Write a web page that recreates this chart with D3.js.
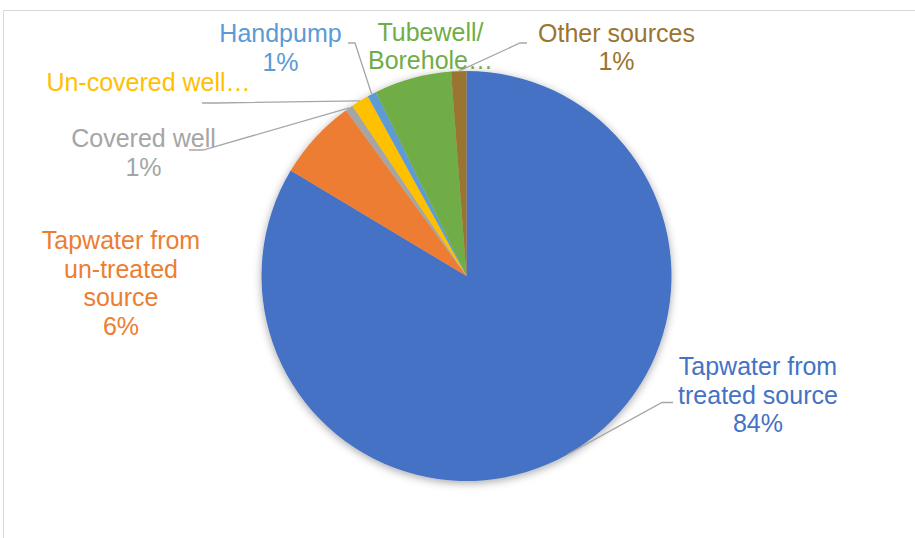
<!DOCTYPE html>
<html>
<head>
<meta charset="utf-8">
<script src="https://cdn.jsdelivr.net/npm/d3@7"></script>
<style>
  html, body { margin: 0; padding: 0; background: #fff; }
  svg { display: block; font-family: "Liberation Sans", Arial, sans-serif; }
</style>
</head>
<body>
<svg id="chart" width="915" height="538"></svg>
<script>
// ---- data ----
const categories = [
  "Tapwater from treated source",
  "Tapwater from un-treated source",
  "Covered well",
  "Un-covered well",
  "Handpump",
  "Tubewell/ Borehole",
  "Other sources"
];
const values = [83.6, 6.4, 0.6, 1.4, 0.7, 6.1, 1.2];
// label text lines ("%" placeholder replaced by computed percentage)
const labelLines = [
  ["Tapwater from", "treated source", "%"],
  ["Tapwater from", "un-treated", "source", "%"],
  ["Covered well", "%"],
  ["Un-covered well…"],
  ["Handpump", "%"],
  ["Tubewell/", "Borehole…"],
  ["Other sources", "%"]
];
const colors = ["#4472C4", "#ED7D31", "#A5A5A5", "#FFC000", "#5B9BD5", "#70AD47", "#9A7530"];

// ---- layout (positions/styles) ----
const cx = 466.5, cy = 276, R = 205;
const fontSize = 25, lineH = 28.5;
const labelPos = [ // label center x, first baseline y, leader polyline start (near label)
  {x: 758, y: 375, leader: [[673, 402.5], [662, 402.5]]},
  {x: 121, y: 249, leader: null},
  {x: 143.5, y: 147, leader: [[189, 150], [203, 150]]},
  {x: 148.5, y: 90.5, leader: [[202, 103], [216, 103]]},
  {x: 280.5, y: 42, leader: [[348, 43], [355, 43]]},
  {x: 430.5, y: 40.5, leader: null},
  {x: 616.5, y: 41.5, leader: [[527, 43], [520, 43]]}
];

const svg = d3.select("#chart");

// chart frame (clipped by the window)
svg.append("rect")
  .attr("x", 3.5).attr("y", 10.5)
  .attr("width", 1000).attr("height", 600)
  .attr("fill", "none").attr("stroke", "#D9D9D9").attr("stroke-width", 1);

const defs = svg.append("defs");
const f = defs.append("filter").attr("id", "shadow")
  .attr("x", "-10%").attr("y", "-10%").attr("width", "120%").attr("height", "120%");
f.append("feDropShadow").attr("dx", 0).attr("dy", 2).attr("stdDeviation", 4)
  .attr("flood-color", "#000").attr("flood-opacity", 0.35);

const data = categories.map((c, i) => ({cat: c, value: values[i], i}));
const pie = d3.pie().value(d => d.value).sort(null);
const arcs = pie(data);
const arc = d3.arc().innerRadius(0).outerRadius(R);
const total = d3.sum(values);

const g = svg.append("g").attr("transform", `translate(${cx},${cy})`);
g.append("g").attr("filter", "url(#shadow)")
  .selectAll("path").data(arcs).join("path")
  .attr("d", arc)
  .attr("fill", d => colors[d.data.i]);

// leader lines
const line = d3.line();
arcs.forEach(a => {
  const lp = labelPos[a.data.i];
  if (!lp.leader) return;
  const mid = (a.startAngle + a.endAngle) / 2;
  const px = cx + R * Math.sin(mid), py = cy - R * Math.cos(mid);
  svg.append("path")
    .attr("d", line([...lp.leader, [px, py]]))
    .attr("fill", "none").attr("stroke", "#A6A6A6").attr("stroke-width", 1.3);
});

// labels
arcs.forEach(a => {
  const i = a.data.i;
  const lp = labelPos[i];
  const pct = Math.round(a.data.value / total * 100) + "%";
  const t = svg.append("text")
    .attr("text-anchor", "middle")
    .attr("font-size", fontSize)
    .attr("fill", colors[i]);
  labelLines[i].forEach((s, k) => {
    t.append("tspan").attr("x", lp.x).attr("y", lp.y + k * lineH)
      .text(s === "%" ? pct : s);
  });
});
</script>
</body>
</html>
